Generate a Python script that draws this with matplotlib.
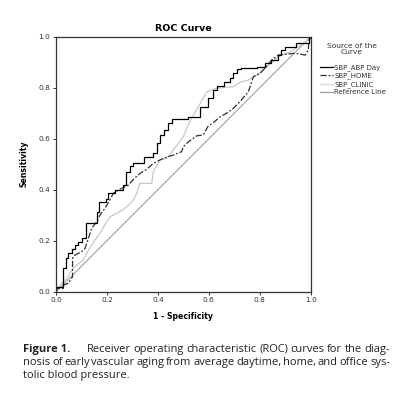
import matplotlib.pyplot as plt
from matplotlib.lines import Line2D

# ROC points (1 - specificity, sensitivity)
abp_fpr = [0, 0, 0.029, 0.038, 0.048, 0.062, 0.075, 0.088, 0.101, 0.118,
           0.160, 0.170, 0.196, 0.205, 0.232, 0.262, 0.275, 0.290, 0.304, 0.346,
           0.380, 0.398, 0.408, 0.424, 0.441, 0.454, 0.520, 0.565, 0.595, 0.618,
           0.633, 0.660, 0.683, 0.696, 0.712, 0.725, 0.788, 0.820, 0.843, 0.873,
           0.883, 0.899, 0.942, 0.995, 1.0]
abp_tpr = [0, 0.02, 0.092, 0.131, 0.151, 0.167, 0.183, 0.196, 0.209, 0.271,
           0.314, 0.353, 0.362, 0.386, 0.399, 0.418, 0.471, 0.493, 0.506, 0.527,
           0.543, 0.582, 0.615, 0.634, 0.660, 0.676, 0.686, 0.725, 0.758, 0.791,
           0.807, 0.824, 0.837, 0.859, 0.872, 0.876, 0.882, 0.896, 0.909, 0.928,
           0.948, 0.961, 0.974, 0.994, 1.0]

home_fpr = [0, 0.005, 0.029, 0.029, 0.048, 0.065, 0.065, 0.075, 0.101, 0.114,
            0.123, 0.140, 0.160, 0.173, 0.192, 0.212, 0.225, 0.251, 0.284, 0.304,
            0.330, 0.356, 0.382, 0.421, 0.461, 0.493, 0.500, 0.520, 0.552, 0.578,
            0.598, 0.618, 0.644, 0.670, 0.696, 0.722, 0.755, 0.775, 0.801, 0.820,
            0.847, 0.873, 0.938, 0.978, 0.990, 0.995, 1.0]
home_tpr = [0, 0.013, 0.013, 0.026, 0.033, 0.059, 0.131, 0.144, 0.157, 0.170,
            0.196, 0.249, 0.275, 0.301, 0.327, 0.360, 0.386, 0.402, 0.418, 0.441,
            0.464, 0.480, 0.503, 0.523, 0.536, 0.549, 0.569, 0.588, 0.611, 0.615,
            0.650, 0.663, 0.686, 0.700, 0.719, 0.745, 0.784, 0.843, 0.856, 0.876,
            0.909, 0.928, 0.935, 0.928, 0.948, 1.0, 1.0]

clinic_fpr = [0, 0.022, 0.042, 0.062, 0.081, 0.107, 0.127, 0.153, 0.173, 0.199,
              0.212, 0.251, 0.278, 0.304, 0.317, 0.330, 0.376, 0.382, 0.408, 0.435,
              0.461, 0.500, 0.519, 0.533, 0.552, 0.592, 0.631, 0.696, 0.722, 0.755,
              0.790, 0.820, 0.850, 0.880, 0.920, 0.950, 0.980, 1.0]
clinic_tpr = [0, 0.033, 0.052, 0.085, 0.105, 0.124, 0.163, 0.203, 0.229, 0.275,
              0.294, 0.314, 0.333, 0.360, 0.386, 0.425, 0.425, 0.471, 0.516, 0.523,
              0.556, 0.608, 0.654, 0.680, 0.713, 0.784, 0.798, 0.804, 0.821, 0.830,
              0.850, 0.876, 0.900, 0.928, 0.940, 0.960, 0.980, 1.0]

ticks = [0.0, 0.2, 0.4, 0.6, 0.8, 1.0]
tick_labels = ["0.0", "0.2", "0.4", "0.6", "0.8", "1.0"]
legend_labels = ["SBP_ABP Day", "SBP_HOME", "SBP_CLINIC", "Reference Line"]

caption = [
    "Receiver operating characteristic (ROC) curves for the diag-",
    "nosis of early vascular aging from average daytime, home, and office sys-",
    "tolic blood pressure.",
]

W = 407
fig = plt.figure(figsize=(4.07, 3.95), dpi=100)
ax = fig.add_axes([0.1376, 0.2615, 0.6258, 0.6456])

ax.plot([0, 1], [0, 1], color='#a0a0a0', lw=0.8)
ax.plot(clinic_fpr, clinic_tpr, color='#c8c8c8', lw=0.9)
ax.plot(home_fpr, home_tpr, color='#303030', lw=0.9, dashes=(5, 1.5, 1.5, 1.5))
ax.plot(abp_fpr, abp_tpr, color='black', lw=0.9, drawstyle='steps-post')

ax.set_xlim(0, 1)
ax.set_ylim(0, 1)
ax.set_xticks(ticks)
ax.set_xticklabels(tick_labels)
ax.set_yticks(ticks)
ax.set_yticklabels(tick_labels)
ax.tick_params(labelsize=5.3, colors='#333333', length=2.5, width=0.7, pad=1.5)
for s in ax.spines.values():
    s.set_linewidth(0.9)
    s.set_color('#333333')

ax.set_title("ROC Curve", fontsize=6.8, fontweight='bold', pad=4)
ax.set_xlabel("1 - Specificity", fontsize=5.6, fontweight='bold', labelpad=6)
ax.set_ylabel("Sensitivity", fontsize=5.6, fontweight='bold', labelpad=7)

# legend (title drawn separately, centred like SPSS)
fig.text(0.865, 0.877, "Source of the\nCurve", fontsize=5.4, color='#333333',
         ha='center', va='center', linespacing=1.0)
handles = [Line2D([], [], color='black', lw=0.9),
           Line2D([], [], color='#303030', lw=0.9, dashes=(5, 1.5, 1.5, 1.5)),
           Line2D([], [], color='#d8d8d8', lw=0.9),
           Line2D([], [], color='#a0a0a0', lw=0.9)]
leg = fig.legend(handles, legend_labels, loc='upper left',
                 bbox_to_anchor=(0.786, 0.838),
                 fontsize=5.0, frameon=False,
                 handlelength=1.9, handletextpad=0.2, labelspacing=0.25,
                 borderpad=0, borderaxespad=0)
for t in leg.get_texts():
    t.set_color('#333333')

# caption, justified like the journal text
cap = dict(fontsize=8.0, family='Open Sans', color='#222222')
renderer = fig.canvas.get_renderer()


def justify(text, y, x0, x1):
    words = text.split()
    arts = [fig.text(0, y, w, **cap) for w in words]
    widths = [a.get_window_extent(renderer).width for a in arts]
    gap = (x1 - x0 - sum(widths)) / (len(words) - 1)
    x = x0
    for a, w in zip(arts, widths):
        a.set_x(x / W)
        x += w + gap


fig.text(23 / W, 0.1101, "Figure 1.", fontweight='bold', **cap)
justify(caption[0], 0.1101, 87, 390)
justify(caption[1], 0.0759, 23, 390)
fig.text(23 / W, 0.0418, caption[2], **cap)

fig.savefig("out.png", dpi=100)
